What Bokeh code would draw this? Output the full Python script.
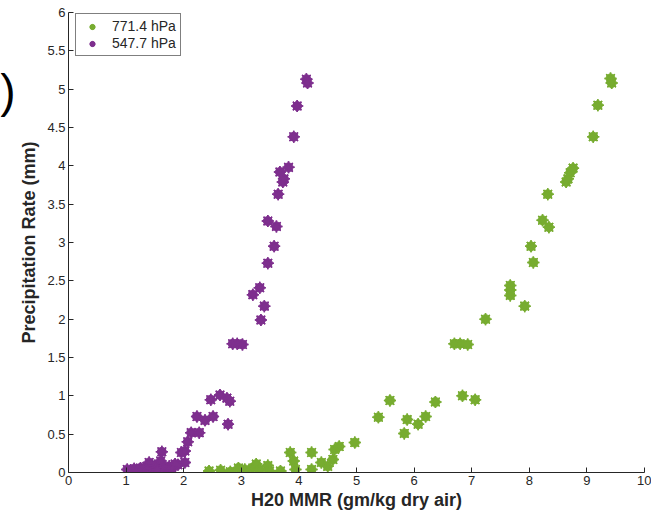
import math
from bokeh.plotting import figure
from bokeh.layouts import row
from bokeh.models import Range1d, FixedTicker, CustomJSTickFormatter, ColumnDataSource
from bokeh.core.properties import value
from bokeh.embed import file_html
from bokeh.resources import INLINE

# 771.4 hPa series (green)
x_771 = [2.44, 2.64, 2.81, 2.95, 3.06, 3.20, 3.26, 3.32, 3.46, 3.49, 3.68, 3.85, 3.91, 3.94,
         4.22, 4.22, 4.39, 4.50, 4.59, 4.62, 4.70, 4.97, 5.38, 5.58, 5.83, 5.88, 6.07, 6.20,
         6.37, 6.84, 7.06, 6.70, 6.80, 6.93, 7.24, 7.92, 7.67, 7.67, 7.67, 8.07, 8.03, 8.23,
         8.34, 8.32, 8.64, 8.67, 8.71, 8.76, 9.11, 9.19, 9.41, 9.43]
y_771 = [0.02, 0.03, 0.01, 0.06, 0.04, 0.06, 0.11, 0.04, 0.09, 0.02, 0.02, 0.26, 0.15, 0.04,
         0.26, 0.04, 0.13, 0.08, 0.17, 0.30, 0.34, 0.39, 0.72, 0.94, 0.51, 0.69, 0.63, 0.73,
         0.92, 1.00, 0.95, 1.68, 1.68, 1.67, 2.00, 2.17, 2.31, 2.38, 2.44, 2.74, 2.95, 3.29,
         3.20, 3.63, 3.79, 3.83, 3.91, 3.97, 4.38, 4.79, 5.14, 5.08]

# 547.7 hPa series (purple)
x_547 = [1.02, 1.08, 1.14, 1.20, 1.25, 1.30, 1.36, 1.40, 1.45, 1.50, 1.55, 1.60, 1.62, 1.66,
         1.70, 1.75, 1.80, 1.85, 1.90, 1.96, 2.02, 2.02, 2.07, 2.13, 2.27, 2.23, 2.37, 2.51,
         2.47, 2.63, 2.75, 2.80, 2.77, 2.85, 2.93, 3.02, 3.34, 3.40, 3.20, 3.32, 3.46, 3.57,
         3.46, 3.61, 3.64, 3.72, 3.74, 3.67, 3.82, 3.91, 3.97, 4.13, 4.15]
y_547 = [0.04, 0.03, 0.05, 0.03, 0.06, 0.04, 0.08, 0.13, 0.05, 0.09, 0.04, 0.15, 0.27, 0.07,
         0.03, 0.08, 0.05, 0.11, 0.10, 0.26, 0.28, 0.13, 0.40, 0.52, 0.52, 0.73, 0.68, 0.73,
         0.95, 1.01, 0.97, 0.93, 0.63, 1.68, 1.68, 1.67, 1.99, 2.17, 2.32, 2.41, 2.73, 2.95,
         3.28, 3.21, 3.63, 3.79, 3.83, 3.92, 3.98, 4.38, 4.78, 5.13, 5.08]

series = [("771.4 hPa", x_771, y_771, "#77AC30"), ("547.7 hPa", x_547, y_547, "#7E2F8E")]

x_ticks = [0, 1, 2, 3, 4, 5, 6, 7, 8, 9, 10]
y_ticks = [0, 0.5, 1, 1.5, 2, 2.5, 3, 3.5, 4, 4.5, 5, 5.5, 6]

# stray cropped text fragment at the left edge of the source image
fragment_text = [")"]

FONT = "Liberation Sans"
AX = "#262626"
H = 514
SIDE_W = 16

# narrow strip holding the cropped ")" fragment
side = figure(width=SIDE_W, height=H, output_backend="svg", toolbar_location=None,
              x_range=Range1d(0, SIDE_W), y_range=Range1d(H, 0),
              x_axis_type=None, y_axis_type=None,
              min_border_left=0, min_border_right=0, min_border_top=0, min_border_bottom=0)
side.outline_line_color = None
side.xgrid.visible = False
side.ygrid.visible = False
side.background_fill_color = "white"
side.border_fill_color = "white"
side.text(x=[SIDE_W - 1], y=[88], text=fragment_text, text_font=value(FONT),
          text_font_size="46px", text_align="right", text_baseline="middle",
          text_color="black")

p = figure(width=651 - SIDE_W, height=H, output_backend="svg", toolbar_location=None,
           x_range=Range1d(0, 10), y_range=Range1d(0, 6),
           min_border_left=66 - SIDE_W, min_border_right=7, min_border_top=12,
           min_border_bottom=42)
p.background_fill_color = "white"
p.border_fill_color = "white"
p.outline_line_color = None
p.xgrid.visible = False
p.ygrid.visible = False

for name, xs, ys, col in series:
    src = ColumnDataSource(dict(x=xs, y=ys))
    p.scatter("x", "y", source=src, marker="circle", size=9, fill_color=col, line_color=col,
              legend_label=name)
    p.scatter("x", "y", source=src, marker="asterisk", size=12, line_color=col, line_width=1.5,
              legend_label=name)
    p.scatter("x", "y", source=src, marker="asterisk", size=12, line_color=col, line_width=1.5,
              angle=math.pi / 2, legend_label=name)

fmt = CustomJSTickFormatter(code="return String(Math.round(tick*10)/10);")
for ax, ticks in ((p.xaxis[0], x_ticks), (p.yaxis[0], y_ticks)):
    ax.ticker = FixedTicker(ticks=ticks)
    ax.formatter = fmt
    ax.major_tick_in = 5
    ax.major_tick_out = 0
    ax.minor_tick_line_color = None
    ax.axis_line_color = AX
    ax.major_tick_line_color = AX
    ax.major_label_text_color = AX
    ax.major_label_text_font = FONT
    ax.major_label_text_font_size = "13px"
    ax.major_label_standoff = 3
    ax.axis_label_text_font = FONT
    ax.axis_label_text_font_style = "bold"
    ax.axis_label_text_font_size = "18px"
    ax.axis_label_text_color = AX
    ax.axis_label_standoff = 2

p.yaxis[0].axis_label_standoff = 5
p.xaxis.axis_label = "H20 MMR (gm/kg dry air)"
p.yaxis.axis_label = "Precipitation Rate (mm)"

lg = p.legend[0]
lg.location = (7, 416)
lg.border_line_color = "black"
lg.border_line_width = 1
lg.background_fill_color = "white"
lg.background_fill_alpha = 1
lg.label_text_font = FONT
lg.label_text_font_size = "14px"
lg.label_text_color = AX
lg.glyph_width = 24
lg.glyph_height = 13
lg.label_height = 13
lg.spacing = 1
lg.padding = 4
lg.margin = 0
lg.label_standoff = 8

layout = row(side, p, spacing=0)
open("out.html", "w").write(file_html(layout, INLINE))
